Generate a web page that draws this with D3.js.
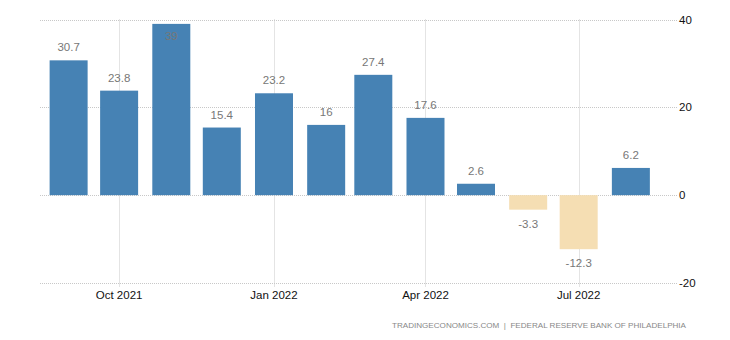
<!DOCTYPE html>
<html>
<head>
<meta charset="utf-8">
<script src="https://cdn.jsdelivr.net/npm/d3@7"></script>
<style>
  html, body { margin: 0; padding: 0; background: #fff; }
  svg { display: block; }
  text { font-family: "Liberation Sans", Arial, sans-serif; }
</style>
</head>
<body>
<svg id="chart" width="730" height="340"></svg>
<script>
const months = ["2021-09-01","2021-10-01","2021-11-01","2021-12-01","2022-01-01","2022-02-01",
                "2022-03-01","2022-04-01","2022-05-01","2022-06-01","2022-07-01","2022-08-01"];
const values = [30.7, 23.8, 39, 15.4, 23.2, 16, 27.4, 17.6, 2.6, -3.3, -12.3, 6.2];
const xTickDates = ["2021-10-01","2022-01-01","2022-04-01","2022-07-01"];
const xTickLabels = ["Oct 2021","Jan 2022","Apr 2022","Jul 2022"];
const yTicks = [-20, 0, 20, 40];
const sourceText = "TRADINGECONOMICS.COM  |  FEDERAL RESERVE BANK OF PHILADELPHIA";

(function () {
const parse = d3.utcParse("%Y-%m-%d");
const svg = d3.select("#chart");
const pL = 40, pR = 678, pT = 19.5, pB = 283;

const x = d3.scaleUtc()
  .domain([parse("2021-08-15"), parse("2022-08-29")])
  .range([pL, pR]);
const y = d3.scaleLinear().domain([-20, 40]).range([pB, pT]);

// horizontal grid
svg.append("g").selectAll("line").data(yTicks).join("line")
  .attr("x1", pL).attr("x2", pR)
  .attr("y1", d => Math.round(y(d)) + 0.5).attr("y2", d => Math.round(y(d)) + 0.5)
  .attr("stroke", "#c8c8c8").attr("stroke-dasharray", "1,1");

// vertical grid
svg.append("g").selectAll("line").data(xTickDates).join("line")
  .attr("x1", d => Math.round(x(parse(d))) + 0.5).attr("x2", d => Math.round(x(parse(d))) + 0.5)
  .attr("y1", pT).attr("y2", pB + 4)
  .attr("stroke", "#c8c8c8").attr("stroke-dasharray", "1,1");

// bars
const barW = 38;
const data = months.map((m, i) => ({ date: parse(m), v: values[i] }));
svg.append("g").selectAll("rect").data(data).join("rect")
  .attr("x", d => x(d.date) - barW / 2)
  .attr("width", barW)
  .attr("y", d => y(Math.max(0, d.v)))
  .attr("height", d => Math.abs(y(d.v) - y(0)))
  .attr("fill", d => d.v >= 0 ? "#4682B4" : "#F5DEB3");

// value labels
svg.append("g").selectAll("text").data(data).join("text")
  .attr("x", d => x(d.date))
  .attr("y", d => {
    if (d.v >= 0) {
      const yy = y(d.v) - 13;
      return (yy < pT + 2 ? y(d.v) + 12 : yy) + 4;
    }
    return y(d.v) + 14 + 4;
  })
  .attr("text-anchor", "middle")
  .attr("font-size", "11.5px")
  .attr("fill", "#777")
  .text(d => d.v);

// x tick labels
svg.append("g").selectAll("text").data(xTickDates).join("text")
  .attr("x", (d) => x(parse(d)))
  .attr("y", 299)
  .attr("text-anchor", "middle")
  .attr("font-size", "11.5px")
  .attr("fill", "#111")
  .text((d, i) => xTickLabels[i]);

// y tick labels
svg.append("g").selectAll("text").data(yTicks).join("text")
  .attr("x", pR + 1)
  .attr("y", d => y(d) + 4)
  .attr("font-size", "11.5px")
  .attr("fill", "#111")
  .text(d => d);

// source
svg.append("text")
  .attr("x", 686).attr("y", 328)
  .attr("text-anchor", "end")
  .attr("font-size", "8px")
  .attr("fill", "#888")
  .attr("textLength", 294)
  .attr("lengthAdjust", "spacingAndGlyphs")
  .style("white-space", "pre")
  .text(sourceText);
})();
</script>
</body>
</html>
